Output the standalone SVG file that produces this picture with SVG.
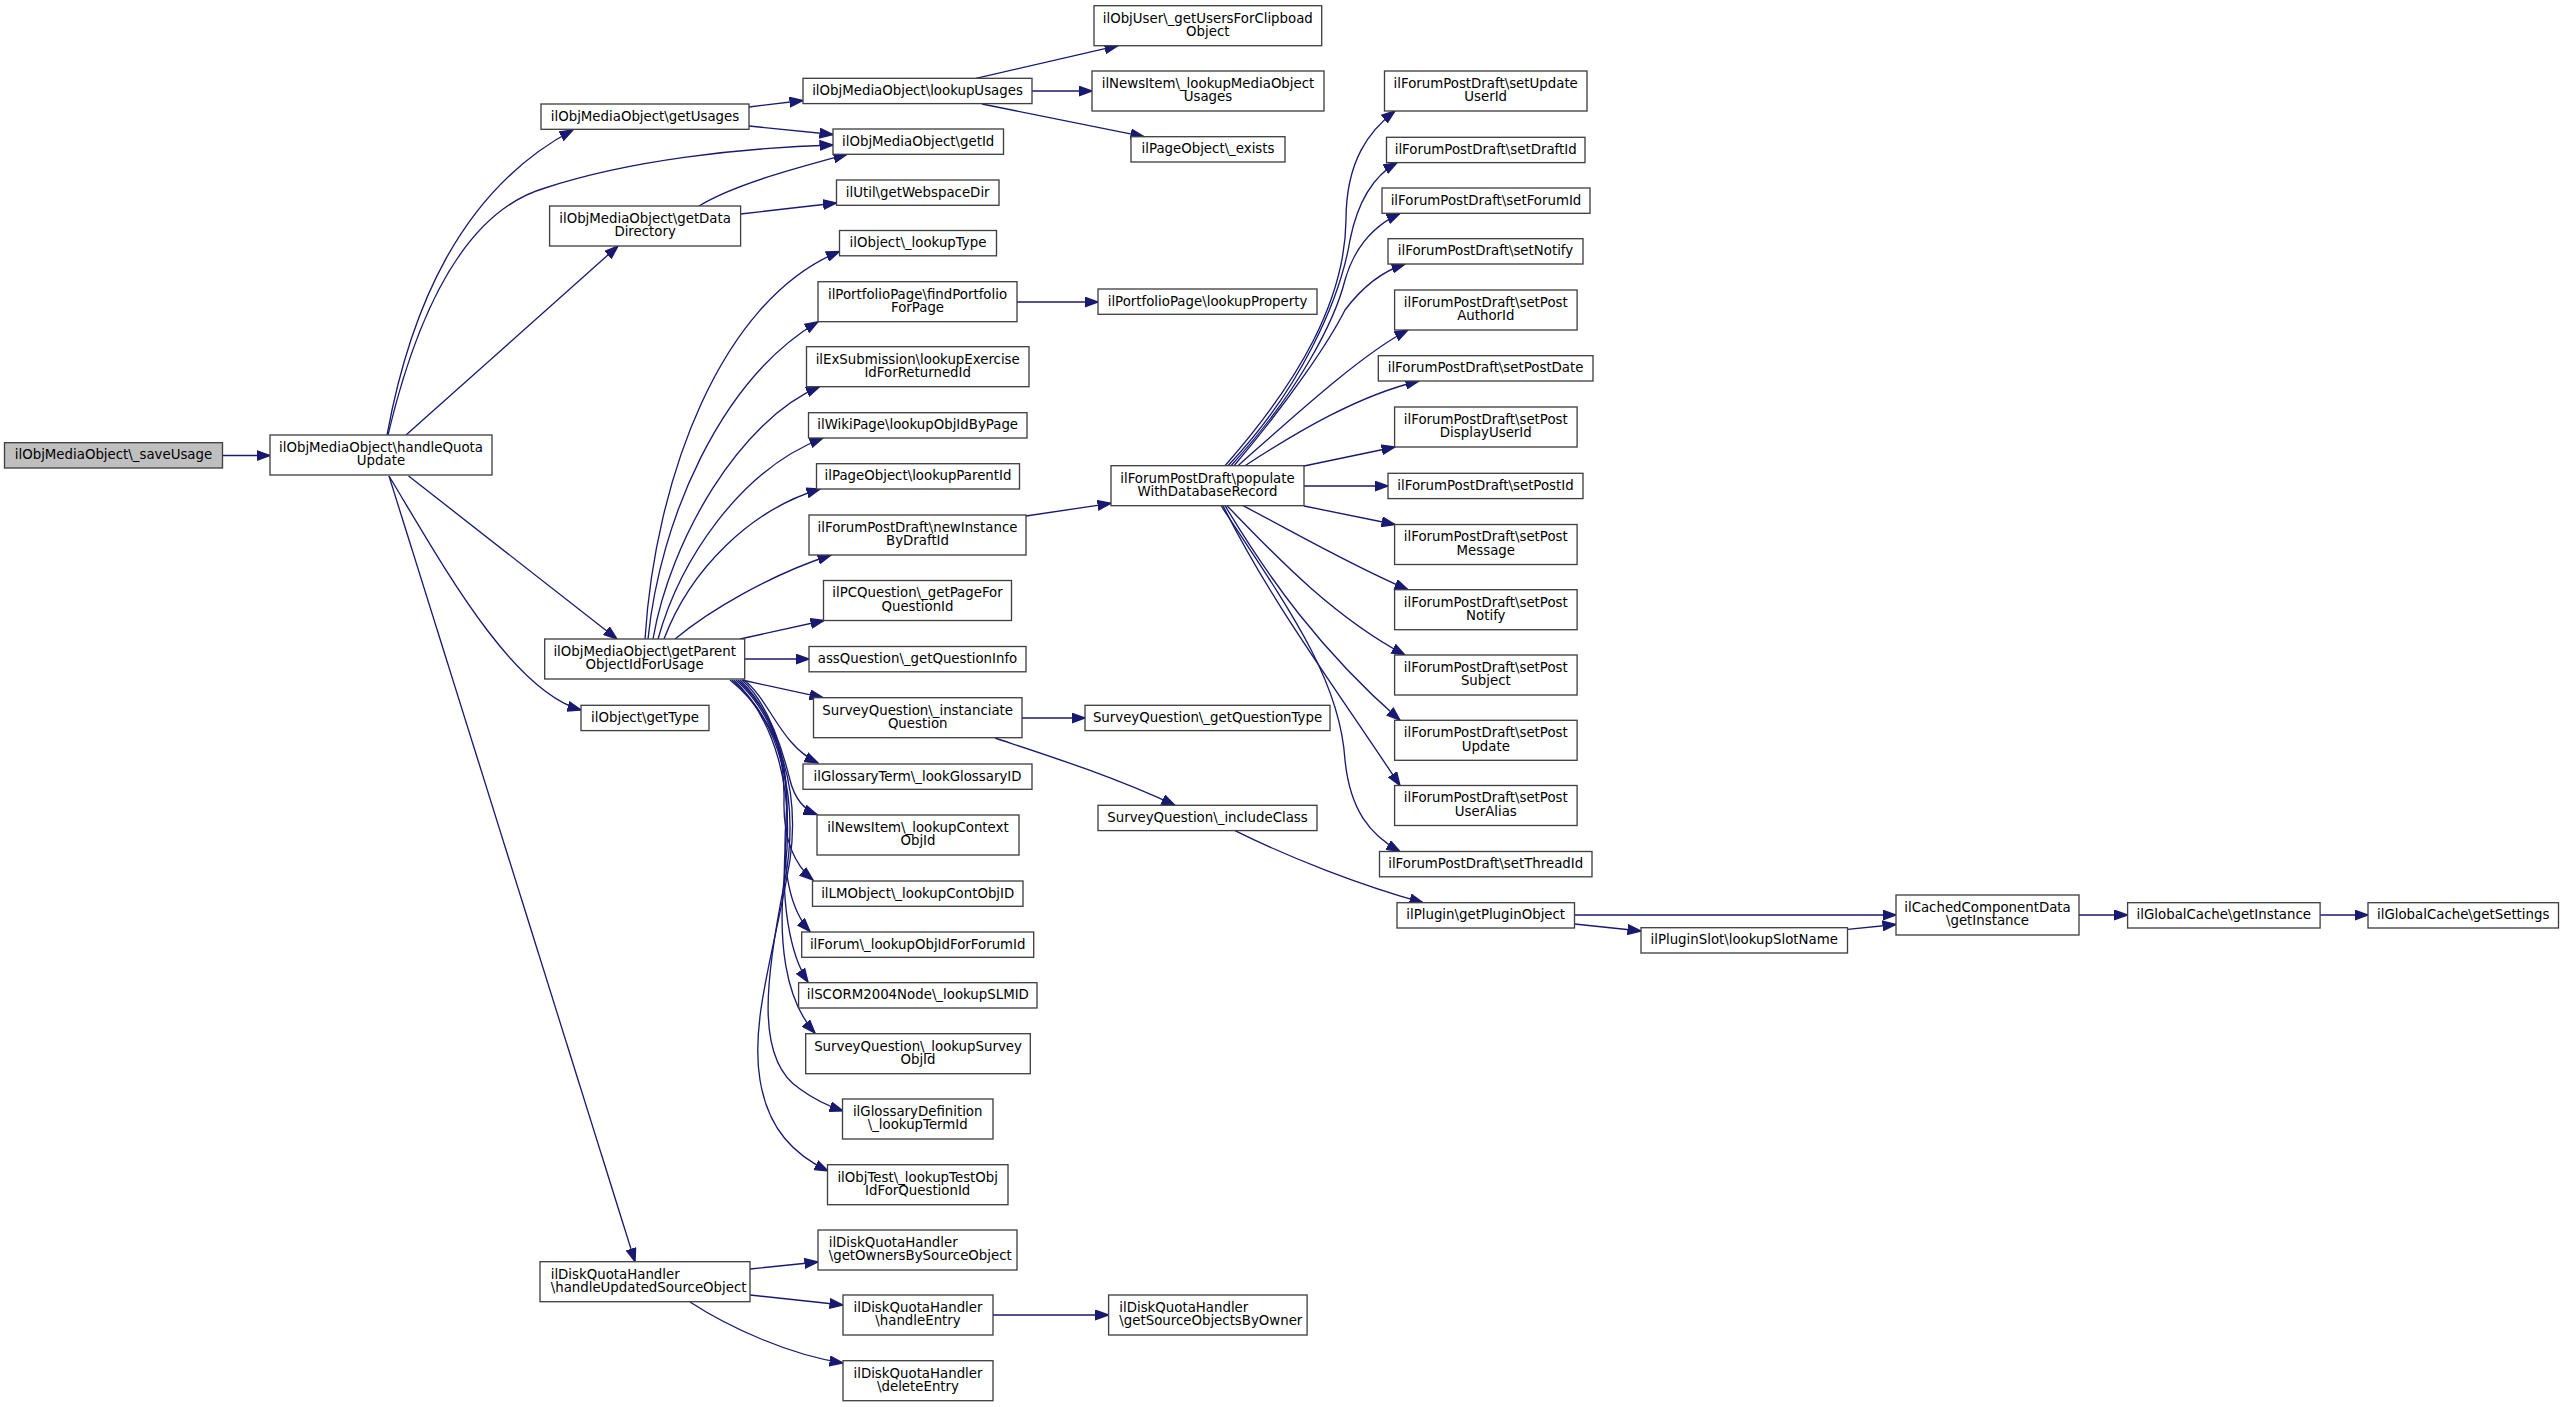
<svg xmlns="http://www.w3.org/2000/svg" width="2564" height="1407" viewBox="0 0 2564 1407">
<style>
.n rect{fill:#ffffff;stroke:#404040;stroke-width:1.33}
.n text{font-family:"DejaVu Sans","Liberation Sans",sans-serif;font-size:13.33px;text-anchor:middle;fill:#000000}
.n.l text{text-anchor:start}
#root rect{fill:#bfbfbf}
.e path{fill:none;stroke:#191970;stroke-width:1.33;marker-end:url(#a)}
</style>
<defs>
<marker id="a" markerUnits="userSpaceOnUse" viewBox="0 0 15 11" markerWidth="15" markerHeight="11" refX="13.5" refY="5.5" orient="auto">
<path d="M0.5,0.8 L13.5,5.5 L0.5,10.2 Z" fill="#191970" stroke="#191970" stroke-width="1.33"/>
</marker>
</defs>
<rect width="2564" height="1407" fill="#ffffff"/>
<g id="edges" class="e">
<path d="M222.7,455.5 L270,455.5"/>
<path d="M387,435 C410,310 460,190 573,130"/>
<path d="M388,435 C420,300 470,210 545,188 C630,160 740,148 833,145"/>
<path d="M406,435 L618,246"/>
<path d="M408.6,476 L617,639"/>
<path d="M389,476 C440,560 510,690 581,710"/>
<path d="M389,476 L635,1261.7"/>
<path d="M749,107 L803,100.5"/>
<path d="M749,126 L833,134.5"/>
<path d="M699,206 C735,184 800,167 847,154.3"/>
<path d="M740.5,214 L836.5,203"/>
<path d="M976,78.3 L1118,45.7"/>
<path d="M1032,91 L1092,91"/>
<path d="M982,104 L1144,136.7"/>
<path d="M1017,302 L1098,302"/>
<path d="M645,639 C655,480 720,300 839.5,251.5"/>
<path d="M648,639 C660,520 720,380 818,321.7"/>
<path d="M653,639 C670,540 740,420 819.5,386.7"/>
<path d="M658,639 C680,560 740,470 823,438"/>
<path d="M664,639 C690,570 750,510 820,489"/>
<path d="M675,639 C710,610 770,575 831,555"/>
<path d="M740,639 L824,620.5"/>
<path d="M745,659 L809,659"/>
<path d="M742,680 L823,697.7"/>
<path d="M744,680 C770,700 780,745 818,763"/>
<path d="M742,680 C765,700 780,740 790,780 C795,800 805,810 817,814.5"/>
<path d="M740,680 C770,710 785,750 784,800 C783,840 795,865 813,880"/>
<path d="M738,680 C775,715 790,760 786,820 C782,870 790,910 810,931.5"/>
<path d="M736,680 C775,715 792,770 786,840 C780,900 790,955 808,982"/>
<path d="M734,680 C775,720 795,790 785,870 C777,940 785,1000 815,1033"/>
<path d="M732,680 C780,720 800,800 785,880 C765,980 755,1060 800,1089 C815,1100 828,1106 843,1111"/>
<path d="M730,680 C780,720 800,790 790,860 C775,950 750,1020 760,1080 C768,1130 795,1155 828,1171"/>
<path d="M750,1269 L818,1262"/>
<path d="M750,1295 L843,1305"/>
<path d="M690,1302 C730,1328 790,1355 843,1363"/>
<path d="M993,1315 L1108.6,1315"/>
<path d="M1026,516 L1111,503.3"/>
<path d="M1225,465.7 C1300,380 1345,300 1346,220 C1346,160 1370,130 1395,111"/>
<path d="M1228,465.7 C1300,390 1340,300 1350,240 C1358,200 1375,175 1397,162.6"/>
<path d="M1231,465.7 C1300,390 1335,320 1345,280 C1355,245 1375,225 1400,213.3"/>
<path d="M1234,465.7 C1290,400 1330,340 1345,310 C1360,290 1380,272 1405,264"/>
<path d="M1238,465.7 C1290,420 1360,355 1408,330"/>
<path d="M1245,465.7 C1300,430 1360,395 1419,381"/>
<path d="M1304,466 L1395,447"/>
<path d="M1304,486 L1388,486"/>
<path d="M1304,506 L1395,524.5"/>
<path d="M1243,505.7 C1290,530 1350,565 1408,589.7"/>
<path d="M1227,505.7 C1270,550 1330,615 1405,655"/>
<path d="M1225,505.7 C1270,580 1320,650 1400,720.3"/>
<path d="M1223,505.7 C1270,600 1330,680 1400,785.5"/>
<path d="M1221,505.7 C1290,610 1340,680 1345,760 C1350,810 1370,835 1400,851.5"/>
<path d="M1022,718 L1085,718"/>
<path d="M995,738 C1040,753 1110,775 1175,805.3"/>
<path d="M1235,830.6 C1290,858 1360,885 1423,902.7"/>
<path d="M1574.5,915 L1896,915"/>
<path d="M1574.5,924 L1641,931"/>
<path d="M1847.5,929.3 L1896,924.5"/>
<path d="M2079,915 L2127.6,915"/>
<path d="M2320,915 L2368,915"/>
</g>
<g id="root" class="n"><rect x="4.5" y="442.7" width="218" height="25.3"/><text x="113.5" y="459.2">ilObjMediaObject\_saveUsage</text></g>
<g id="handleQuotaUpdate" class="n"><rect x="270" y="435" width="222" height="40"/><text x="381" y="451.8">ilObjMediaObject\handleQuota</text><text x="381" y="465.3">Update</text></g>
<g id="getUsages" class="n"><rect x="541" y="104" width="208" height="25.3"/><text x="645" y="120.5">ilObjMediaObject\getUsages</text></g>
<g id="getDataDirectory" class="n"><rect x="549.6" y="206" width="191" height="40"/><text x="645.1" y="222.8">ilObjMediaObject\getData</text><text x="645.1" y="236.3">Directory</text></g>
<g id="getParentObjectIdForUsage" class="n"><rect x="544.7" y="639" width="200" height="40"/><text x="644.7" y="655.8">ilObjMediaObject\getParent</text><text x="644.7" y="669.3">ObjectIdForUsage</text></g>
<g id="getType" class="n"><rect x="581" y="705.3" width="128" height="25.3"/><text x="645" y="721.8">ilObject\getType</text></g>
<g id="handleUpdatedSourceObject" class="n l"><rect x="540" y="1261.7" width="210" height="40"/><text x="550.7" y="1278.5">ilDiskQuotaHandler</text><text x="550.7" y="1292">\handleUpdatedSourceObject</text></g>
<g id="lookupUsages" class="n"><rect x="803" y="78.3" width="229" height="25.3"/><text x="917.5" y="94.8">ilObjMediaObject\lookupUsages</text></g>
<g id="getId" class="n"><rect x="833" y="129" width="170.5" height="25.3"/><text x="918.2" y="145.5">ilObjMediaObject\getId</text></g>
<g id="getWebspaceDir" class="n"><rect x="836.5" y="180" width="162.5" height="25.3"/><text x="917.7" y="196.5">ilUtil\getWebspaceDir</text></g>
<g id="lookupType" class="n"><rect x="839.5" y="230.5" width="157" height="25.3"/><text x="918" y="247">ilObject\_lookupType</text></g>
<g id="findPortfolioForPage" class="n"><rect x="818" y="281.7" width="199" height="40"/><text x="917.5" y="298.5">ilPortfolioPage\findPortfolio</text><text x="917.5" y="312">ForPage</text></g>
<g id="lookupExerciseIdForReturnedId" class="n"><rect x="806.5" y="346.7" width="222.5" height="40"/><text x="917.7" y="363.5">ilExSubmission\lookupExercise</text><text x="917.7" y="377">IdForReturnedId</text></g>
<g id="lookupObjIdByPage" class="n"><rect x="808.5" y="412.7" width="218.5" height="25.3"/><text x="917.7" y="429.2">ilWikiPage\lookupObjIdByPage</text></g>
<g id="lookupParentId" class="n"><rect x="816.5" y="463.7" width="203" height="25.3"/><text x="918" y="480.2">ilPageObject\lookupParentId</text></g>
<g id="newInstanceByDraftId" class="n"><rect x="809" y="515" width="217" height="40"/><text x="917.5" y="531.8">ilForumPostDraft\newInstance</text><text x="917.5" y="545.3">ByDraftId</text></g>
<g id="getPageForQuestionId" class="n"><rect x="823.5" y="580.5" width="188" height="40"/><text x="917.5" y="597.3">ilPCQuestion\_getPageFor</text><text x="917.5" y="610.8">QuestionId</text></g>
<g id="getQuestionInfo" class="n"><rect x="809" y="646.5" width="217" height="25.3"/><text x="917.5" y="663">assQuestion\_getQuestionInfo</text></g>
<g id="instanciateQuestion" class="n"><rect x="813.5" y="697.7" width="208.5" height="40"/><text x="917.7" y="714.5">SurveyQuestion\_instanciate</text><text x="917.7" y="728">Question</text></g>
<g id="lookGlossaryID" class="n"><rect x="803" y="764" width="229" height="25.3"/><text x="917.5" y="780.5">ilGlossaryTerm\_lookGlossaryID</text></g>
<g id="lookupContextObjId" class="n"><rect x="817" y="815" width="202" height="40"/><text x="918" y="831.8">ilNewsItem\_lookupContext</text><text x="918" y="845.3">ObjId</text></g>
<g id="lookupContObjID" class="n"><rect x="812.5" y="881" width="210.5" height="25.3"/><text x="917.7" y="897.5">ilLMObject\_lookupContObjID</text></g>
<g id="lookupObjIdForForumId" class="n"><rect x="801.7" y="932" width="232" height="25.3"/><text x="917.7" y="948.5">ilForum\_lookupObjIdForForumId</text></g>
<g id="lookupSLMID" class="n"><rect x="798.6" y="982.7" width="238.4" height="25.3"/><text x="917.8" y="999.2">ilSCORM2004Node\_lookupSLMID</text></g>
<g id="lookupSurveyObjId" class="n"><rect x="805.7" y="1033.7" width="224.6" height="40"/><text x="918" y="1050.5">SurveyQuestion\_lookupSurvey</text><text x="918" y="1064">ObjId</text></g>
<g id="lookupTermId" class="n"><rect x="842.5" y="1099" width="150.5" height="40"/><text x="917.7" y="1115.8">ilGlossaryDefinition</text><text x="917.7" y="1129.3">\_lookupTermId</text></g>
<g id="lookupTestObjIdForQuestionId" class="n"><rect x="827.5" y="1164.7" width="180.5" height="40"/><text x="917.7" y="1181.5">ilObjTest\_lookupTestObj</text><text x="917.7" y="1195">IdForQuestionId</text></g>
<g id="getOwnersBySourceObject" class="n l"><rect x="818" y="1230" width="199" height="40"/><text x="828.7" y="1246.8">ilDiskQuotaHandler</text><text x="828.7" y="1260.3">\getOwnersBySourceObject</text></g>
<g id="handleEntry" class="n"><rect x="843" y="1295" width="150" height="40"/><text x="918" y="1311.8">ilDiskQuotaHandler</text><text x="918" y="1325.3">\handleEntry</text></g>
<g id="deleteEntry" class="n"><rect x="843" y="1360.7" width="150" height="40"/><text x="918" y="1377.5">ilDiskQuotaHandler</text><text x="918" y="1391">\deleteEntry</text></g>
<g id="getUsersForClipboadObject" class="n"><rect x="1094" y="5.7" width="227.7" height="40"/><text x="1207.8" y="22.5">ilObjUser\_getUsersForClipboad</text><text x="1207.8" y="36">Object</text></g>
<g id="lookupMediaObjectUsages" class="n"><rect x="1092" y="71" width="232" height="40"/><text x="1208" y="87.8">ilNewsItem\_lookupMediaObject</text><text x="1208" y="101.3">Usages</text></g>
<g id="exists" class="n"><rect x="1131" y="136.7" width="154" height="25.3"/><text x="1208" y="153.2">ilPageObject\_exists</text></g>
<g id="lookupProperty" class="n"><rect x="1098" y="289" width="219" height="25.3"/><text x="1207.5" y="305.5">ilPortfolioPage\lookupProperty</text></g>
<g id="populateWithDatabaseRecord" class="n"><rect x="1111" y="465.7" width="193" height="40"/><text x="1207.5" y="482.5">ilForumPostDraft\populate</text><text x="1207.5" y="496">WithDatabaseRecord</text></g>
<g id="getQuestionType" class="n"><rect x="1085" y="705.3" width="245" height="25.3"/><text x="1207.5" y="721.8">SurveyQuestion\_getQuestionType</text></g>
<g id="includeClass" class="n"><rect x="1098" y="805.3" width="219" height="25.3"/><text x="1207.5" y="821.8">SurveyQuestion\_includeClass</text></g>
<g id="getSourceObjectsByOwner" class="n l"><rect x="1108.6" y="1295" width="198.5" height="40"/><text x="1119.3" y="1311.8">ilDiskQuotaHandler</text><text x="1119.3" y="1325.3">\getSourceObjectsByOwner</text></g>
<g id="setUpdateUserId" class="n"><rect x="1384.5" y="71" width="202.5" height="40"/><text x="1485.7" y="87.8">ilForumPostDraft\setUpdate</text><text x="1485.7" y="101.3">UserId</text></g>
<g id="setDraftId" class="n"><rect x="1386.5" y="137.3" width="198.5" height="25.3"/><text x="1485.7" y="153.8">ilForumPostDraft\setDraftId</text></g>
<g id="setForumId" class="n"><rect x="1382" y="188" width="208" height="25.3"/><text x="1486" y="204.5">ilForumPostDraft\setForumId</text></g>
<g id="setNotify" class="n"><rect x="1388" y="238.7" width="195" height="25.3"/><text x="1485.5" y="255.2">ilForumPostDraft\setNotify</text></g>
<g id="setPostAuthorId" class="n"><rect x="1394.6" y="290" width="182.5" height="40"/><text x="1485.8" y="306.8">ilForumPostDraft\setPost</text><text x="1485.8" y="320.3">AuthorId</text></g>
<g id="setPostDate" class="n"><rect x="1378.3" y="355.7" width="214.7" height="25.3"/><text x="1485.6" y="372.2">ilForumPostDraft\setPostDate</text></g>
<g id="setPostDisplayUserId" class="n"><rect x="1394.6" y="407" width="182.5" height="40"/><text x="1485.8" y="423.8">ilForumPostDraft\setPost</text><text x="1485.8" y="437.3">DisplayUserId</text></g>
<g id="setPostId" class="n"><rect x="1388" y="473.3" width="195" height="25.3"/><text x="1485.5" y="489.8">ilForumPostDraft\setPostId</text></g>
<g id="setPostMessage" class="n"><rect x="1394.6" y="524.5" width="182.5" height="40"/><text x="1485.8" y="541.3">ilForumPostDraft\setPost</text><text x="1485.8" y="554.8">Message</text></g>
<g id="setPostNotify" class="n"><rect x="1394.6" y="589.7" width="182.5" height="40"/><text x="1485.8" y="606.5">ilForumPostDraft\setPost</text><text x="1485.8" y="620">Notify</text></g>
<g id="setPostSubject" class="n"><rect x="1394.6" y="655" width="182.5" height="40"/><text x="1485.8" y="671.8">ilForumPostDraft\setPost</text><text x="1485.8" y="685.3">Subject</text></g>
<g id="setPostUpdate" class="n"><rect x="1394.6" y="720.3" width="182.5" height="40"/><text x="1485.8" y="737.1">ilForumPostDraft\setPost</text><text x="1485.8" y="750.6">Update</text></g>
<g id="setPostUserAlias" class="n"><rect x="1394.6" y="785.5" width="182.5" height="40"/><text x="1485.8" y="802.3">ilForumPostDraft\setPost</text><text x="1485.8" y="815.8">UserAlias</text></g>
<g id="setThreadId" class="n"><rect x="1379.5" y="851.5" width="212.5" height="25.3"/><text x="1485.7" y="868">ilForumPostDraft\setThreadId</text></g>
<g id="getPluginObject" class="n"><rect x="1397" y="902.7" width="177.5" height="25.3"/><text x="1485.7" y="919.2">ilPlugin\getPluginObject</text></g>
<g id="lookupSlotName" class="n"><rect x="1641" y="927.7" width="206.5" height="25.3"/><text x="1744.2" y="944.2">ilPluginSlot\lookupSlotName</text></g>
<g id="cachedGetInstance" class="n"><rect x="1896" y="895" width="183" height="40"/><text x="1987.5" y="911.8">ilCachedComponentData</text><text x="1987.5" y="925.3">\getInstance</text></g>
<g id="globalGetInstance" class="n"><rect x="2127.6" y="902.7" width="192.5" height="25.3"/><text x="2223.8" y="919.2">ilGlobalCache\getInstance</text></g>
<g id="getSettings" class="n"><rect x="2368" y="902.7" width="190.5" height="25.3"/><text x="2463.2" y="919.2">ilGlobalCache\getSettings</text></g>
</svg>
